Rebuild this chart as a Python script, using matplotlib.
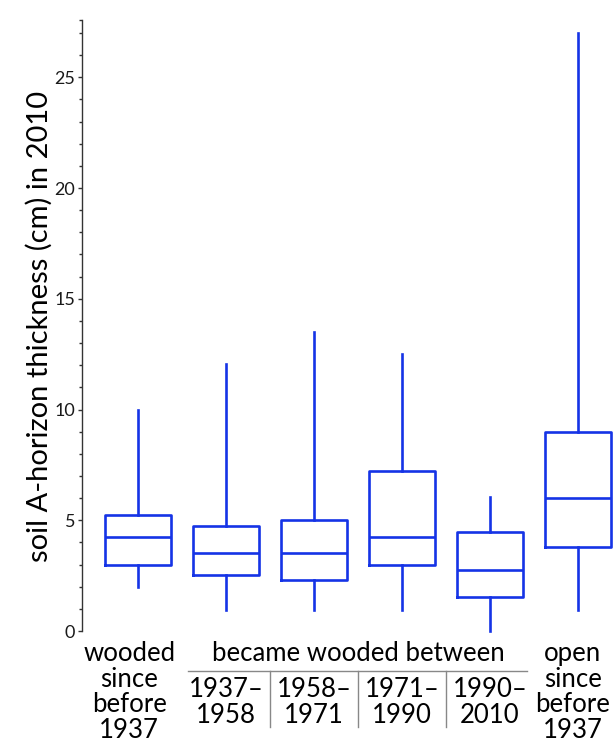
import matplotlib
matplotlib.use("Agg")
import matplotlib.pyplot as plt
from matplotlib.transforms import blended_transform_factory

# ---- data ----
groups = ["wooded since before 1937", "1937–1958", "1958–1971", "1971–1990", "1990–2010", "open since before 1937"]
whisker_low = [2.0, 0.95, 0.95, 0.95, 0.0, 0.95]
q1 = [3.0, 2.55, 2.3, 3.0, 1.53, 3.8]
median = [4.25, 3.5, 3.5, 4.25, 2.77, 6.02]
q3 = [5.22, 4.72, 5.0, 7.22, 4.48, 8.98]
whisker_high = [10.0, 12.05, 13.5, 12.5, 6.03, 27.0]

side_labels = ["wooded\nsince\nbefore\n1937", "open\nsince\nbefore\n1937"]
period_labels = ["1937–\n1958", "1958–\n1971", "1971–\n1990", "1990–\n2010"]
group_title = "became wooded between"
ylabel = "soil A-horizon thickness (cm) in 2010"

W, H = 613, 742
fig = plt.figure(figsize=(W / 100, H / 100), dpi=100)
ax_left, ax_right = 82, 613
y0_px, ytop_px = 631, 19.7
ax = fig.add_axes([ax_left / W, 1 - y0_px / H, (ax_right - ax_left) / W, (y0_px - ytop_px) / H])

color = "#1533E6"
stats = []
for i in range(len(groups)):
    stats.append(dict(whislo=whisker_low[i], q1=q1[i], med=median[i], q3=q3[i],
                      whishi=whisker_high[i], fliers=[], label=groups[i]))
positions = list(range(1, len(groups) + 1))
bp = ax.bxp(stats, positions=positions, widths=0.76, showcaps=False, showfliers=False,
            boxprops=dict(color=color, linewidth=1.9),
            medianprops=dict(color=color, linewidth=1.9),
            whiskerprops=dict(color=color, linewidth=1.9),
            manage_ticks=False)
for k in ("boxes", "medians", "whiskers"):
    for a in bp[k]:
        a.set_clip_on(False)

ymax = 27.6
ax.set_ylim(0, ymax)
ax.set_xlim(1 - 56 / 88, 6 + 35 / 88)

for s in ("top", "right", "bottom"):
    ax.spines[s].set_visible(False)
ax.spines["left"].set_color("#333333")
ax.spines["left"].set_linewidth(1.0)
ax.set_xticks([])
ax.set_yticks([0, 5, 10, 15, 20, 25])
ax.set_yticks([v for v in range(1, 28) if v % 5 != 0] + [ymax], minor=True)
ax.tick_params(axis="y", which="major", length=3, width=1, color="#333333", pad=1.8,
               labelsize=13, labelcolor="#1a1a1a")
ax.tick_params(axis="y", which="minor", length=2, width=1, color="#333333")
lab_font = "Lato"
for t in ax.get_yticklabels():
    t.set_fontfamily(lab_font)

fig.text(39 / W, 1 - 326 / H, ylabel, rotation=90, ha="center", va="center",
         fontsize=21, family=lab_font)

# bottom labels, x in data coords, y in figure pixels
tr = blended_transform_factory(ax.transData, fig.transFigure)
def fy(px):
    return 1 - px / H

fs = 18.5
ls = 1.03
ax.text(0.9, fy(641), side_labels[0], transform=tr, ha="center", va="top",
        fontsize=fs, family=lab_font, linespacing=ls)
ax.text(5.94, fy(641), side_labels[1], transform=tr, ha="center", va="top",
        fontsize=fs, family=lab_font, linespacing=ls, clip_on=False)
ax.text(3.5, fy(641), group_title, transform=tr, ha="center", va="top",
        fontsize=fs, family=lab_font)
ax.plot([1.57, 5.42], [fy(671), fy(671)], transform=tr, color="#888888", lw=1.0, clip_on=False)
for xd in (2.5, 3.5, 4.5):
    ax.plot([xd, xd], [fy(671), fy(727)], transform=tr, color="#888888", lw=1.0, clip_on=False)
for i, lab in enumerate(period_labels):
    ax.text(positions[i + 1], fy(677), lab, transform=tr, ha="center", va="top",
            fontsize=fs, family=lab_font, linespacing=ls)

fig.savefig("out.png", dpi=100)
